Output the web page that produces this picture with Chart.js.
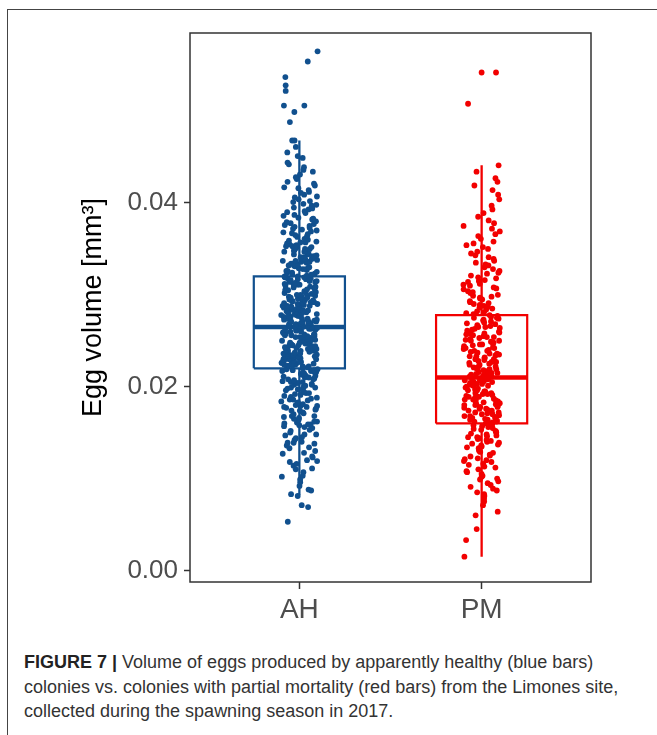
<!DOCTYPE html>
<html>
<head>
<meta charset="utf-8">
<script src="https://cdn.jsdelivr.net/npm/chart.js@4.4.1/dist/chart.umd.min.js"></script>
<style>
  html, body { margin: 0; padding: 0; background: #fff; width: 657px; height: 735px; overflow: hidden; }
  .frame { position: absolute; left: 7px; top: 9px; width: 800px; height: 800px; border: 1.5px solid #444; }
  .chart { position: absolute; left: 0; top: 0; }
  .caption { position: absolute; left: 24px; top: 650px; font-family: "Liberation Sans", Arial, sans-serif; font-size: 18px; line-height: 24.5px; color: #333; white-space: nowrap; }
  .caption b { color: #222; }
</style>
</head>
<body>
<div class="frame"></div>
<canvas class="chart" id="chart" width="657" height="640"></canvas>
<div class="caption"><b>FIGURE 7 |</b> Volume of eggs produced by apparently healthy (blue bars)<br>colonies vs. colonies with partial mortality (red bars) from the Limones site,<br>collected during the spawning season in 2017.</div>
<script>
const categories = ["AH", "PM"];
const yTicks = [0, 0.02, 0.04];

// box statistics (mm3)
const boxQ1 = [0.0220, 0.0160];
const boxMedian = [0.0265, 0.0210];
const boxQ3 = [0.0320, 0.0278];
const whiskerLow = [0.0082, 0.0015];
const whiskerHigh = [0.0468, 0.0441];

// egg volumes, apparently healthy colonies
const eggsAH = [
  .0053, .0069, .0071,
  .0081, .0083, .0087, .0088, .0092, .0096, .0099,
  .0102, .0103, .0107, .0110, .0111, .0114, .0116, .0118, .0119,
  .0120, .0123, .0124, .0127, .0128, .0130, .0133, .0134, .0136, .0138, .0139, .0139,
  .0140, .0142, .0144, .0145, .0147, .0148, .0148, .0150, .0152, .0153, .0155, .0156, .0157, .0158, .0159, .0159,
  .0160, .0161, .0162, .0162, .0164, .0165, .0166, .0167, .0168, .0168, .0170, .0171, .0172, .0174, .0174, .0175,
  .0176, .0177, .0178, .0178, .0179, .0179,
  .0180, .0181, .0182, .0183, .0184, .0185, .0186, .0186, .0187, .0188, .0189, .0190, .0191, .0192, .0193, .0193,
  .0194, .0195, .0196, .0197, .0197, .0198, .0199, .0199,
  .0200, .0201, .0202, .0202, .0203, .0204, .0205, .0205, .0206, .0207, .0208, .0208, .0209, .0210, .0210, .0211,
  .0212, .0212, .0213, .0214, .0214, .0215, .0216, .0216, .0217, .0217, .0218, .0218, .0219, .0219,
  .0220, .0221, .0221, .0222, .0222, .0223, .0223, .0224, .0224, .0225, .0225, .0225, .0226, .0226, .0227, .0227,
  .0228, .0228, .0229, .0229, .0230, .0230, .0230, .0231, .0231, .0232, .0232, .0233, .0233, .0233, .0234, .0234,
  .0235, .0235, .0236, .0236, .0236, .0237, .0237, .0238, .0238, .0239, .0239, .0239,
  .0240, .0240, .0241, .0241, .0242, .0242, .0242, .0243, .0243, .0244, .0244, .0245, .0245, .0245, .0246, .0246,
  .0247, .0247, .0248, .0248, .0248, .0249, .0249, .0250, .0250, .0251, .0251, .0251, .0252, .0252, .0253, .0253,
  .0254, .0254, .0254, .0255, .0255, .0256, .0256, .0257, .0257, .0257, .0258, .0258, .0259, .0259,
  .0260, .0260, .0261, .0261, .0262, .0262, .0262, .0263, .0263, .0264, .0264, .0265, .0265, .0265, .0266, .0266,
  .0267, .0267, .0268, .0268, .0268, .0269, .0269, .0270, .0270, .0271, .0271, .0271, .0272, .0272, .0273, .0273,
  .0274, .0274, .0274, .0275, .0275, .0276, .0276, .0277, .0277, .0277, .0278, .0278, .0279, .0279,
  .0280, .0280, .0281, .0281, .0282, .0282, .0283, .0283, .0284, .0284, .0284, .0285, .0285, .0286, .0286, .0287,
  .0287, .0288, .0288, .0288, .0289, .0289, .0290, .0290, .0291, .0291, .0292, .0292, .0292, .0293, .0293, .0294,
  .0294, .0295, .0295, .0296, .0296, .0296, .0297, .0297, .0298, .0298, .0299, .0299,
  .0300, .0300, .0301, .0302, .0302, .0303, .0303, .0304, .0305, .0305, .0306, .0306, .0307, .0308, .0308, .0309,
  .0309, .0310, .0311, .0311, .0312, .0312, .0313, .0314, .0314, .0315, .0315, .0316, .0317, .0317, .0318, .0318,
  .0319, .0319, .0319, .0320,
  .0320, .0321, .0322, .0322, .0323, .0324, .0324, .0325, .0326, .0326, .0327, .0328, .0328, .0329, .0330, .0330,
  .0331, .0332, .0332, .0333, .0334, .0334, .0335, .0336, .0336, .0337, .0337, .0338, .0338, .0339, .0339,
  .0340, .0341, .0341, .0342, .0343, .0344, .0344, .0345, .0346, .0347, .0347, .0348, .0349, .0350, .0350, .0351,
  .0352, .0353, .0353, .0354, .0355, .0356, .0357, .0357, .0358, .0359,
  .0360, .0361, .0362, .0363, .0364, .0365, .0366, .0367, .0368, .0369, .0370, .0371, .0372, .0373, .0374, .0375,
  .0376, .0377, .0378, .0379,
  .0380, .0382, .0383, .0384, .0386, .0387, .0389, .0390, .0391, .0393, .0394, .0395, .0397, .0398, .0399,
  .0401, .0402, .0404, .0406, .0407, .0409, .0411, .0412, .0414, .0416, .0417, .0419,
  .0421, .0423, .0426, .0428, .0431, .0434, .0436, .0439,
  .0442, .0444, .0449, .0451, .0455, .0461, .0468, .0468,
  .0488, .0499, .0506, .0506, .0522, .0528, .0537, .0554, .0565
];

// egg volumes, colonies with partial mortality
const eggsPM = [
  .0015, .0033, .0045,
  .0060, .0064, .0071, .0075, .0078,
  .0081, .0083, .0085, .0087, .0089, .0091, .0093, .0095, .0097, .0099,
  .0100, .0102, .0103, .0105, .0107, .0108, .0110, .0112, .0113, .0115, .0116, .0118, .0119,
  .0120, .0121, .0122, .0124, .0125, .0126, .0128, .0129, .0130, .0131, .0133, .0134, .0135, .0136, .0137, .0138, .0139,
  .0140, .0141, .0142, .0143, .0144, .0145, .0145, .0146, .0147, .0148, .0149, .0150, .0151, .0152, .0153, .0154,
  .0155, .0156, .0157, .0158, .0159, .0159,
  .0160, .0160, .0161, .0162, .0162, .0163, .0164, .0164, .0165, .0166, .0166, .0167, .0168, .0168, .0169, .0170,
  .0170, .0171, .0172, .0172, .0173, .0174, .0174, .0175, .0176, .0176, .0177, .0178, .0178, .0179,
  .0180, .0180, .0181, .0181, .0182, .0183, .0183, .0184, .0184, .0185, .0186, .0186, .0187, .0187, .0188, .0189,
  .0189, .0190, .0190, .0191, .0192, .0192, .0193, .0193, .0194, .0195, .0195, .0196, .0196, .0197, .0198, .0199,
  .0200, .0201, .0201, .0202, .0203, .0203, .0204, .0205, .0205, .0206, .0207, .0207, .0208, .0209, .0209, .0210,
  .0211, .0211, .0212, .0213, .0213, .0214, .0215, .0215, .0216, .0217, .0217, .0218, .0219, .0219,
  .0220, .0221, .0221, .0222, .0223, .0224, .0224, .0225, .0226, .0227, .0227, .0228, .0229, .0230, .0230, .0231,
  .0232, .0233, .0233, .0234, .0235, .0236, .0236, .0237, .0238, .0239, .0239,
  .0240, .0241, .0242, .0242, .0243, .0244, .0245, .0246, .0246, .0247, .0248, .0249, .0250, .0250, .0251, .0252,
  .0253, .0254, .0254, .0255, .0256, .0257, .0258, .0258, .0259,
  .0260, .0261, .0262, .0263, .0264, .0265, .0265, .0266, .0267, .0268, .0269, .0270, .0271, .0272, .0273, .0274,
  .0275, .0275, .0276, .0277, .0278, .0279,
  .0280, .0281, .0282, .0284, .0285, .0286, .0287, .0288, .0289, .0290, .0291, .0292, .0293, .0295, .0296, .0297,
  .0298, .0299,
  .0300, .0302, .0303, .0304, .0306, .0307, .0308, .0310, .0311, .0312, .0314, .0315, .0316, .0318, .0319,
  .0321, .0323, .0324, .0326, .0328, .0330, .0332, .0333, .0335, .0337, .0339,
  .0341, .0343, .0345, .0347, .0350, .0352, .0354, .0356, .0358,
  .0361, .0364, .0366, .0369, .0372, .0375, .0378,
  .0381, .0385, .0389, .0393, .0397,
  .0404, .0409, .0414, .0419,
  .0423, .0427, .0434, .0441,
  .0508, .0542, .0542
];

const blue = "#11508e";
const red = "#f20000";
const groupColors = [blue, red];
const boxHalf = 0.25;
const jitterWidth = 0.1;

// deterministic horizontal jitter, like geom_jitter but repeatable
function jitter(i, seed) {
  const s = Math.sin(i * 12.9898 + seed * 78.233) * 43758.5453;
  return (s - Math.floor(s)) * 2 - 1;
}

function pointsFor(values, g) {
  return values.map((v, i) => ({ x: g + jitter(i, g) * jitterWidth, y: v }));
}

const datasets = [];

[eggsAH, eggsPM].forEach((values, k) => {
  datasets.push({
    data: pointsFor(values, k + 1),
    backgroundColor: groupColors[k],
    borderWidth: 0,
    pointRadius: 2.9,
    order: 0,
  });
});

categories.forEach((cat, k) => {
  const g = k + 1;
  const line = { showLine: true, pointRadius: 0, borderColor: groupColors[k], fill: false, tension: 0, order: 1 };
  datasets.push({
    ...line,
    borderWidth: 2.2,
    data: [
      { x: g - boxHalf, y: boxQ1[k] },
      { x: g + boxHalf, y: boxQ1[k] },
      { x: g + boxHalf, y: boxQ3[k] },
      { x: g - boxHalf, y: boxQ3[k] },
      { x: g - boxHalf, y: boxQ1[k] },
    ],
  });
  datasets.push({
    ...line,
    borderWidth: 4.5,
    data: [
      { x: g - boxHalf, y: boxMedian[k] },
      { x: g + boxHalf, y: boxMedian[k] },
    ],
  });
  datasets.push({
    ...line,
    borderWidth: 2.3,
    spanGaps: false,
    data: [
      { x: g, y: whiskerLow[k] },
      { x: g, y: boxQ1[k] },
      { x: g, y: null },
      { x: g, y: boxQ3[k] },
      { x: g, y: whiskerHigh[k] },
    ],
  });
});

const panelBorder = {
  id: "panelBorder",
  afterDatasetsDraw(chart) {
    const { ctx, chartArea } = chart;
    ctx.save();
    ctx.strokeStyle = "#333";
    ctx.lineWidth = 1.5;
    ctx.strokeRect(chartArea.left, chartArea.top, chartArea.right - chartArea.left, chartArea.bottom - chartArea.top);
    ctx.restore();
  },
};

new Chart(document.getElementById("chart"), {
  type: "scatter",
  data: { datasets: datasets },
  plugins: [panelBorder],
  options: {
    responsive: false,
    devicePixelRatio: 1,
    animation: false,
    layout: { padding: { top: 33, right: 66, left: 0, bottom: 0 } },
    plugins: { legend: { display: false }, tooltip: { enabled: false } },
    scales: {
      x: {
        type: "linear",
        min: 0.4,
        max: 2.6,
        afterBuildTicks: (scale) => { scale.ticks = categories.map((c, i) => ({ value: i + 1 })); },
        afterFit: (scale) => { scale.height = 640 - 582; },
        ticks: {
          callback: (v) => categories[v - 1],
          font: { family: "Liberation Sans", size: 28 },
          color: "#4d4d4d",
          padding: 4,
          maxRotation: 0,
        },
        grid: { drawOnChartArea: false, drawTicks: true, tickLength: 7, tickColor: "#333", tickWidth: 1.5 },
        border: { display: false },
      },
      y: {
        min: -0.00126,
        max: 0.0585,
        afterBuildTicks: (scale) => { scale.ticks = yTicks.map((v) => ({ value: v })); },
        afterFit: (scale) => { scale.width = 190; },
        ticks: {
          callback: (v) => v.toFixed(2),
          font: { family: "Liberation Sans", size: 26 },
          color: "#4d4d4d",
          padding: 6,
        },
        grid: { drawOnChartArea: false, drawTicks: true, tickLength: 6, tickColor: "#333", tickWidth: 1.5 },
        border: { display: false },
        title: {
          display: true,
          text: "Egg volume [mm³]",
          font: { family: "Liberation Sans", size: 27 },
          color: "#000",
          padding: { top: 77, bottom: 0 },
        },
      },
    },
  },
});
</script>
</body>
</html>
